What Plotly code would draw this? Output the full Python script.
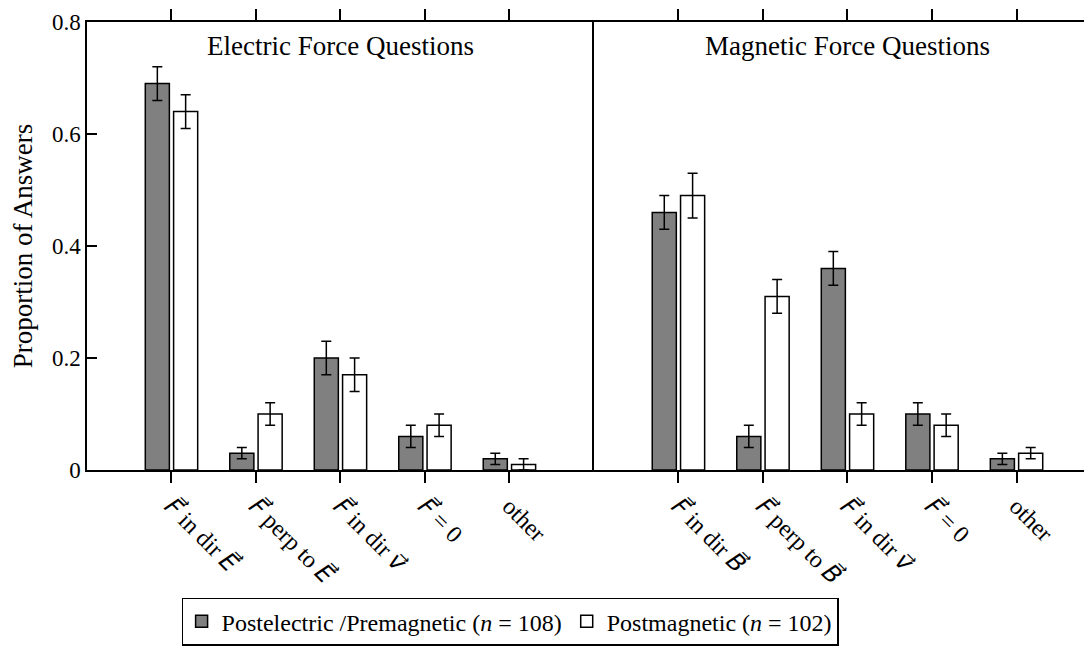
import plotly.graph_objects as go

# ---- data ----
def vec(s):
    return "<span style='font-family:DejaVu Sans;font-style:italic'>" + s + "\u20d7</span>"

positions = [1, 2, 3, 4, 5]
electric_labels = [
    vec("F") + " in dir " + vec("E"),
    vec("F") + " perp to " + vec("E"),
    vec("F") + " in dir " + vec("v"),
    vec("F") + " = 0",
    "other",
]
magnetic_labels = [
    vec("F") + " in dir " + vec("B"),
    vec("F") + " perp to " + vec("B"),
    vec("F") + " in dir " + vec("v"),
    vec("F") + " = 0",
    "other",
]
elec_pre = [0.69, 0.03, 0.20, 0.06, 0.02]
elec_pre_err = [0.03, 0.01, 0.03, 0.02, 0.01]
elec_post = [0.64, 0.10, 0.17, 0.08, 0.01]
elec_post_err = [0.03, 0.02, 0.03, 0.02, 0.01]
mag_pre = [0.46, 0.06, 0.36, 0.10, 0.02]
mag_pre_err = [0.03, 0.02, 0.03, 0.02, 0.01]
mag_post = [0.49, 0.31, 0.10, 0.08, 0.03]
mag_post_err = [0.04, 0.03, 0.02, 0.02, 0.01]
y_ticks = [0, 0.2, 0.4, 0.6, 0.8]
y_ticktext = ["0", "0.2", "0.4", "0.6", "0.8"]
series_names = ["Postelectric /Premagnetic (<i>n</i> = 108)", "Postmagnetic (<i>n</i> = 102)"]
panel_titles = ["Electric Force Questions", "Magnetic Force Questions"]

FONT = "Liberation Serif"
TICKFONT = "Liberation Serif"
GRAY = "#808080"

fig = go.Figure()

def err(arr):
    return dict(type="data", array=arr, color="black", thickness=1.5, width=5)

def add(xv, yv, ev, color, name, xa, ya, show, off):
    fig.add_trace(go.Bar(
        x=xv, y=yv, error_y=err(ev), name=name,
        offset=off, width=0.285,
        marker=dict(color=color, line=dict(color="black", width=1.5)),
        xaxis=xa, yaxis=ya, showlegend=show, legendgroup=name,
    ))

add(positions, elec_pre, elec_pre_err, GRAY, series_names[0], "x", "y", True, -0.31)
add(positions, elec_post, elec_post_err, "white", series_names[1], "x", "y", True, 0.025)
add(positions, mag_pre, mag_pre_err, GRAY, series_names[0], "x2", "y2", False, -0.31)
add(positions, mag_post, mag_post_err, "white", series_names[1], "x2", "y2", False, 0.025)

split = 0.5044
common_x = dict(
    tickvals=positions, tickangle=45, ticks="outside", ticklen=11, tickwidth=1.5,
    tickcolor="black", showline=True, linewidth=1.5, linecolor="black",
    mirror="ticks", showgrid=False, zeroline=False, automargin=False,
    tickfont=dict(family=TICKFONT, size=24, color="black"),
)
# page body has an 8px margin, so the figure is sized/offset to compensate
fig.update_layout(
    width=1084, height=638,
    margin=dict(l=79, r=0, t=14, b=176),
    paper_bgcolor="white", plot_bgcolor="white",
    barmode="overlay",
    font=dict(family=FONT, size=26, color="black"),
    xaxis=dict(domain=[0, split], range=[0, 6], ticktext=electric_labels, anchor="y", **common_x),
    xaxis2=dict(domain=[split, 1], range=[0, 5.893], ticktext=magnetic_labels, anchor="y2", **common_x),
    yaxis=dict(
        domain=[0, 1], range=[0, 0.8], tickvals=y_ticks, ticktext=y_ticktext,
        ticks="inside", ticklen=10, tickwidth=1.5, tickcolor="black",
        showline=True, linewidth=1.5, linecolor="black", showgrid=False, zeroline=False,
        tickfont=dict(family=FONT, size=23, color="black"), automargin=False,
        title=dict(text="Proportion of Answers", font=dict(family=FONT, size=27), standoff=14),
        anchor="x",
    ),
    yaxis2=dict(
        domain=[0, 1], range=[0, 0.8], showticklabels=False, ticks="",
        showline=True, linewidth=1.5, linecolor="black", showgrid=False, zeroline=False,
        anchor="x2", automargin=False,
    ),
    legend=dict(
        orientation="h", x=0.421, xanchor="center", y=-0.285, yanchor="top",
        bordercolor="black", borderwidth=1.5, bgcolor="white",
        font=dict(family=FONT, size=24, color="black"),
        itemwidth=30, tracegroupgap=0,
    ),
    annotations=[
        dict(text=panel_titles[0], xref="x domain", x=0.5, yref="paper", y=0.946,
             showarrow=False, xanchor="center", yanchor="middle",
             font=dict(family=FONT, size=27, color="black")),
        dict(text=panel_titles[1], xref="x2 domain", x=0.51, yref="paper", y=0.946,
             showarrow=False, xanchor="center", yanchor="middle",
             font=dict(family=FONT, size=27, color="black")),
    ],
)

fig.write_html("out.html")
